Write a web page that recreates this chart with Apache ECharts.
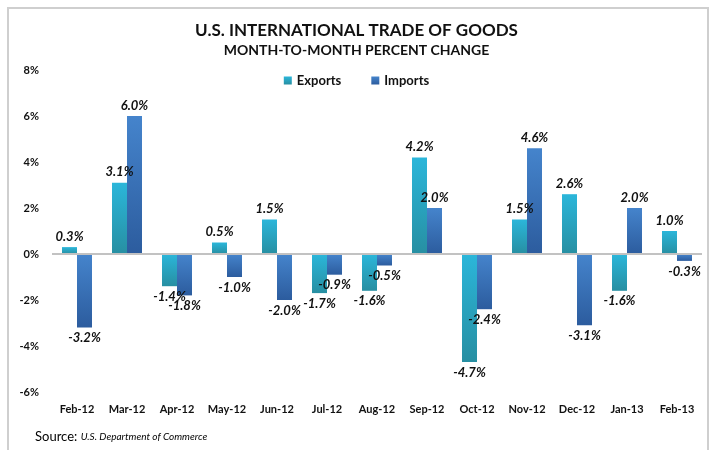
<!DOCTYPE html>
<html>
<head>
<meta charset="utf-8">
<script src="https://cdn.jsdelivr.net/npm/echarts@6/dist/echarts.min.js"></script>
<style>
  html, body { margin: 0; padding: 0; background: #fff; }
  #main { width: 713px; height: 450px; }
</style>
</head>
<body>
<div id="main"></div>
<script>
// month labels along the bottom
var months = ['Feb-12', 'Mar-12', 'Apr-12', 'May-12', 'Jun-12', 'Jul-12', 'Aug-12',
  'Sep-12', 'Oct-12', 'Nov-12', 'Dec-12', 'Jan-13', 'Feb-13'];
// month-to-month percent change
var exportsPct = [0.3, 3.1, -1.4, 0.5, 1.5, -1.7, -1.6, 4.2, -4.7, 1.5, 2.6, -1.6, 1.0];
var importsPct = [-3.2, 6.0, -1.8, -1.0, -2.0, -0.9, -0.5, 2.0, -2.4, 4.6, -3.1, 2.0, -0.3];

var font = 'Lato, "Open Sans", sans-serif';

function grad(top, bottom) {
  return new echarts.graphic.LinearGradient(0, 0, 0, 1, [
    { offset: 0, color: top },
    { offset: 1, color: bottom }
  ]);
}

// label goes above positive bars, below negative ones
function withLabels(arr) {
  return arr.map(function (v) {
    return { value: v, label: { position: v >= 0 ? 'top' : 'bottom' } };
  });
}

var barLabel = {
  show: true,
  distance: 4,
  fontFamily: font,
  fontSize: 13,
  fontWeight: 'bold',
  fontStyle: 'italic',
  color: '#111',
  formatter: function (p) { return p.value.toFixed(1) + '%'; }
};

var chart = echarts.init(document.getElementById('main'));
var option = {
  animation: false,
  title: [{
    text: 'U.S. INTERNATIONAL TRADE OF GOODS',
    left: 'center',
    top: 17,
    textStyle: { fontFamily: font, fontSize: 17, fontWeight: 'bold', color: '#111' }
  }, {
    text: 'MONTH-TO-MONTH PERCENT CHANGE',
    left: 'center',
    top: 38,
    textStyle: { fontFamily: font, fontSize: 14, fontWeight: 'bold', color: '#111' }
  }],
  legend: {
    top: 69,
    left: 'center',
    itemWidth: 8,
    itemHeight: 8,
    itemGap: 30,
    icon: 'rect',
    textStyle: { fontFamily: font, fontSize: 13, fontWeight: 'bold', color: '#111' }
  },
  graphic: [{
    type: 'rect',
    shape: { x: 8, y: 8, width: 700, height: 460 },
    style: { fill: 'none', stroke: '#cfcfcf', lineWidth: 2 },
    silent: true
  }, {
    type: 'text',
    left: 35,
    top: 430,
    style: {
      text: '{a|Source:} {b|U.S. Department of Commerce}',
      rich: {
        a: { fontFamily: font, fontSize: 13, color: '#222' },
        b: { fontFamily: font, fontSize: 10, fontStyle: 'italic', color: '#222' }
      }
    }
  }],
  grid: { left: 52, right: 11, top: 70, bottom: 58 },
  xAxis: {
    type: 'category',
    data: months,
    axisLine: { show: false, onZero: false },
    axisTick: { show: false },
    axisLabel: { margin: 12, fontFamily: font, fontSize: 11, fontWeight: 'bold', color: '#111' }
  },
  yAxis: {
    type: 'value',
    min: -6,
    max: 8,
    interval: 2,
    axisLine: { show: false },
    axisTick: { show: false },
    splitLine: { show: false },
    axisLabel: {
      margin: 13,
      fontFamily: font, fontSize: 11, fontWeight: 'bold', color: '#111',
      formatter: '{value}%'
    }
  },
  series: [{
    name: 'Exports',
    type: 'bar',
    barWidth: 15,
    barGap: '0%',
    data: withLabels(exportsPct),
    itemStyle: { color: grad('#2bb6da', '#278fa2') },
    label: barLabel,
    markLine: {
      silent: true,
      symbol: 'none',
      label: { show: false },
      lineStyle: { color: '#c2c2c2', width: 2, type: 'solid' },
      data: [{ yAxis: 0 }]
    }
  }, {
    name: 'Imports',
    type: 'bar',
    barWidth: 15,
    data: withLabels(importsPct),
    itemStyle: { color: grad('#4584cc', '#2c5c9e') },
    label: barLabel
  }]
};
chart.setOption(option);
window.onresize = function () {
  chart.resize();
};
</script>
</body>
</html>
